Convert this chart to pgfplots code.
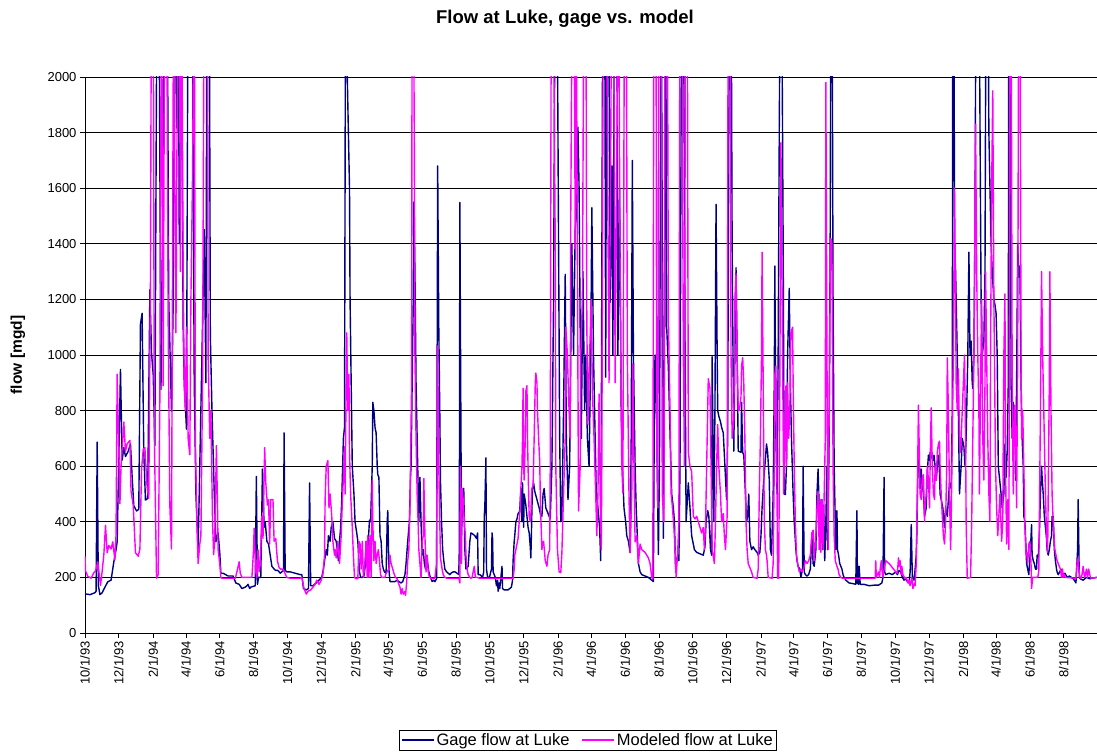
\documentclass[border=0pt]{standalone}
\usepackage{fontspec}
\setmainfont{Liberation Sans}
\usepackage{pgfplots}
\pgfplotsset{compat=1.18}
\definecolor{gagecol}{RGB}{0,0,128}
\definecolor{modelcol}{RGB}{255,0,255}
\begin{document}
\begin{tikzpicture}[x=1bp,y=1bp]
\begin{axis}[
  at={(0,0)}, anchor=south west,
  scale only axis, width=1012bp, height=556bp,
  xmin=0, xmax=1825, ymin=0, ymax=2000,
  ytick={0,200,...,2000},
  xtick={0,61,123,182,243,304,365,426,488,547,608,669,730,791,853,913,974,1035,1096,1157,1219,1278,1339,1400,1461,1522,1584,1643,1704,1765},
  xticklabels={10/1/93,12/1/93,2/1/94,4/1/94,6/1/94,8/1/94,10/1/94,12/1/94,2/1/95,4/1/95,6/1/95,8/1/95,10/1/95,12/1/95,2/1/96,4/1/96,6/1/96,8/1/96,10/1/96,12/1/96,2/1/97,4/1/97,6/1/97,8/1/97,10/1/97,12/1/97,2/1/98,4/1/98,6/1/98,8/1/98},
  axis x line*=bottom, axis y line*=left,
  axis line style={-, black, line width=0.8bp},
  ymajorgrids, grid style={black, line width=0.6bp},
  tick align=outside, major tick length=5bp,
  tick style={black, line width=0.8bp},
  xticklabel style={rotate=90, anchor=east, font=\fontsize{13bp}{15bp}\selectfont},
  yticklabel style={font=\fontsize{13bp}{15bp}\selectfont},
  /pgf/number format/assume math mode=true,
  /pgf/number format/1000 sep={},
  scaled y ticks=false,
  legend style={at={(0.497,-0.1925)}, anchor=center, legend columns=2, draw=black,
    font=\fontsize{16.5bp}{18bp}\selectfont, inner sep=1.5bp,
    /tikz/every even column/.append style={column sep=10bp}},
  legend image code/.code={\draw[#1] (0bp,0bp) -- (32bp,0bp);},
]
\addplot[color=gagecol, line width=1.4bp, line join=round] table {
d v
0 141
9 138
18 145
20 150
22 687
24 171
27 138
31 145
36 165
41 184
47 190
52 256
56 300
58 328
61 628
64 948
67 622
70 667
73 635
78 654
82 680
85 563
88 458
93 439
97 445
100 1111
103 1150
106 654
109 478
113 484
117 1235
120 1007
123 929
126 674
130 2500
133 2500
137 876
140 1400
144 2500
148 2500
151 1200
156 798
159 1177
162 2500
165 1817
168 2500
170 1400
173 2500
177 1100
179 900
183 733
186 2500
193 2500
197 900
200 500
204 302
206 500
212 1111
215 1451
218 900
220 2500
224 2500
226 1072
229 800
233 511
236 328
240 360
243 290
245 215
249 215
258 205
267 205
272 180
278 175
283 160
289 165
292 170
294 175
297 160
299 165
307 170
309 563
311 175
313 200
317 200
320 590
323 380
325 400
328 330
331 320
337 240
341 230
344 225
348 225
352 215
358 225
359 720
361 225
364 220
370 220
379 215
388 210
391 210
394 160
399 155
403 160
405 540
407 170
411 170
417 180
422 190
427 200
430 230
432 260
435 300
437 280
439 350
442 330
444 380
447 400
450 340
453 330
455 300
457 260
459 330
461 380
463 480
466 700
468 740
470 2500
472 2100
475 1800
477 1600
478 1200
480 900
482 600
485 500
487 400
490 360
492 330
495 220
497 200
500 200
503 205
506 250
507 330
510 300
512 370
513 406
515 400
518 600
519 830
521 800
523 740
525 720
527 600
528 570
530 560
532 350
534 330
536 250
538 230
540 220
543 215
545 400
546 440
548 230
550 185
554 185
559 185
563 190
566 185
570 180
573 185
577 210
579 250
582 330
585 400
587 560
588 600
590 900
592 1200
593 1550
595 1300
597 900
599 700
601 500
602 400
604 560
606 400
608 280
610 300
612 250
614 230
616 280
618 250
620 220
622 205
626 185
629 190
631 185
634 195
636 1680
638 1100
640 760
641 550
643 400
645 300
647 260
649 230
652 220
655 215
658 210
660 215
664 220
667 220
671 215
674 210
675 300
676 1549
678 700
679 350
680 420
683 520
685 300
687 230
691 240
693 300
694 330
696 360
700 355
703 350
706 340
708 360
709 210
712 210
715 205
717 200
719 220
720 420
721 450
723 630
724 230
726 200
729 200
730 205
733 230
734 360
735 340
736 220
738 210
740 200
742 170
744 190
745 150
747 180
748 160
750 200
752 240
753 160
756 155
759 155
763 155
766 160
769 165
771 190
772 260
774 330
775 350
777 400
779 410
781 430
783 435
784 440
786 520
788 400
789 540
791 380
792 500
795 460
797 420
799 380
801 360
803 310
804 270
805 350
806 450
807 520
809 540
811 510
815 480
819 450
822 420
824 420
826 500
828 520
831 450
837 420
839 410
842 600
845 1200
848 2500
851 2500
854 1400
856 700
858 400
860 420
863 800
866 1290
868 700
871 480
874 600
876 1000
878 1400
881 1000
884 1450
886 1500
889 1820
891 1600
893 1100
895 700
898 1300
901 800
903 1000
906 700
909 600
912 1000
914 1530
917 1000
920 700
922 500
925 450
928 380
930 260
931 700
934 2500
937 2500
939 920
941 2500
944 2500
947 1190
950 1680
952 1000
955 2500
959 2500
961 1000
964 1600
967 800
969 600
972 450
975 400
977 350
980 330
983 289
985 700
987 1700
989 1000
992 600
994 450
998 250
1001 220
1004 210
1010 205
1016 200
1022 190
1025 185
1027 900
1028 1000
1031 750
1034 282
1036 600
1039 2500
1043 341
1045 1000
1047 2500
1049 1100
1052 955
1055 720
1058 500
1061 450
1063 400
1065 230
1069 280
1071 260
1073 600
1076 2500
1079 2500
1082 1080
1084 400
1088 540
1091 450
1094 350
1099 300
1103 290
1109 285
1115 280
1118 310
1120 400
1123 440
1125 420
1128 300
1130 280
1131 994
1134 400
1136 800
1138 1542
1140 1000
1141 800
1143 780
1146 760
1148 740
1151 720
1154 600
1157 480
1159 700
1161 1800
1163 2500
1165 2500
1167 1400
1170 654
1172 1000
1174 1314
1176 1000
1178 654
1183 650
1184 830
1186 650
1188 640
1191 500
1193 400
1195 420
1197 500
1199 330
1202 300
1205 310
1208 300
1212 290
1214 280
1217 290
1219 350
1221 450
1224 550
1226 600
1229 680
1231 650
1234 550
1236 300
1238 280
1241 500
1243 900
1244 1320
1246 700
1248 500
1250 1000
1252 1800
1254 2500
1256 2500
1259 1400
1261 500
1263 498
1265 600
1267 1000
1270 1240
1272 900
1274 700
1277 500
1279 400
1282 300
1284 260
1286 240
1289 230
1291 200
1294 230
1295 600
1297 220
1299 210
1302 205
1305 210
1308 230
1311 360
1313 250
1315 240
1318 300
1320 500
1322 590
1324 450
1326 370
1329 480
1330 300
1332 460
1334 260
1336 400
1338 600
1339 300
1342 700
1344 1500
1345 2500
1347 2500
1349 1200
1351 600
1353 400
1354 300
1356 440
1357 300
1359 280
1361 250
1365 230
1367 210
1369 200
1372 190
1375 185
1378 180
1384 178
1390 175
1392 440
1393 180
1395 175
1396 240
1398 175
1405 175
1414 170
1423 172
1431 172
1437 180
1439 200
1441 560
1442 220
1444 210
1450 215
1456 210
1462 220
1465 210
1468 225
1471 220
1474 200
1477 190
1480 195
1483 185
1486 180
1488 220
1490 390
1492 200
1495 190
1497 230
1499 280
1500 350
1502 600
1503 670
1506 520
1508 590
1509 550
1512 500
1514 420
1517 450
1519 580
1521 640
1523 620
1524 650
1526 640
1529 620
1531 640
1533 600
1535 550
1538 620
1540 640
1542 500
1545 470
1547 450
1550 380
1552 450
1555 420
1557 480
1559 540
1562 520
1564 800
1565 2500
1567 2500
1568 1400
1570 1300
1573 1000
1575 800
1577 500
1580 600
1582 700
1585 670
1587 600
1589 700
1592 1000
1594 1370
1596 1000
1598 1050
1600 900
1601 880
1603 1000
1605 1500
1607 2500
1612 2500
1615 1500
1616 1200
1618 1000
1621 1050
1623 1300
1625 2500
1628 2500
1630 1800
1632 1600
1634 1400
1636 1300
1639 1200
1641 1180
1643 1150
1645 1000
1647 600
1650 540
1652 500
1654 450
1657 500
1659 680
1661 560
1663 650
1665 900
1666 2500
1668 2500
1670 900
1672 700
1674 830
1675 700
1677 800
1678 550
1680 900
1682 1400
1684 1280
1686 1320
1688 900
1690 700
1692 600
1693 420
1695 400
1698 250
1700 230
1702 210
1705 300
1707 390
1708 280
1710 260
1712 250
1714 230
1716 230
1717 280
1719 270
1721 350
1723 500
1725 600
1726 560
1728 500
1730 420
1732 380
1734 340
1735 300
1737 280
1739 300
1741 330
1743 350
1744 420
1746 420
1748 300
1750 260
1752 230
1753 220
1755 210
1758 220
1760 230
1762 215
1765 210
1767 215
1770 205
1772 200
1775 205
1779 200
1782 195
1784 190
1787 180
1788 220
1790 300
1791 480
1793 200
1795 195
1800 190
1806 200
1812 195
1818 198
1825 200
};
\addlegendentry{Gage flow at Luke}
\addplot[color=modelcol, line width=1.4bp, line join=round] table {
d v
0 276
1 223
5 204
11 197
16 217
19 223
23 256
28 171
31 223
34 282
37 387
40 289
43 315
47 302
50 328
54 263
56 354
58 931
61 654
63 465
65 600
70 759
73 654
76 680
81 693
83 511
87 458
91 289
96 276
99 302
102 589
105 661
108 667
112 524
115 484
118 1242
120 2500
123 2500
125 720
129 197
132 210
135 850
138 2500
141 889
144 2500
147 2500
150 1111
153 458
156 302
157 850
160 2500
162 1600
164 1080
166 1804
170 2500
172 1300
174 2500
177 1300
179 889
181 800
183 1100
186 700
189 641
191 1200
194 1660
197 2500
199 700
202 380
204 250
207 320
209 350
212 900
213 1400
215 2500
221 2500
222 1000
225 700
227 800
230 400
232 282
234 340
237 674
239 450
240 300
243 250
245 200
247 197
271 197
274 220
278 256
280 215
283 200
301 200
304 300
305 377
308 220
310 200
312 300
314 220
316 250
319 420
321 340
324 667
326 540
329 460
331 480
333 320
335 480
339 480
341 330
344 340
347 260
350 235
353 230
357 230
364 200
370 197
388 197
391 200
395 160
399 140
402 150
407 155
411 165
415 175
418 190
422 175
426 190
429 210
432 280
433 480
435 600
438 620
440 450
442 500
445 420
447 330
450 280
451 300
453 270
456 330
459 250
462 350
464 470
466 560
468 670
469 500
470 700
472 1080
474 800
476 930
477 650
479 500
482 380
484 280
486 200
489 195
492 195
494 330
496 320
498 230
500 330
502 200
504 230
507 330
509 200
510 350
512 200
514 350
516 200
518 550
519 400
521 260
523 330
525 250
527 280
529 300
531 260
533 210
535 200
541 200
543 215
548 230
550 280
552 250
555 230
557 215
560 200
563 195
565 180
568 165
570 140
572 160
574 140
577 150
578 135
580 180
582 260
584 300
586 450
587 600
589 900
590 2500
592 2500
594 1700
595 1000
597 700
599 500
601 380
602 300
604 250
606 200
608 330
610 350
611 556
613 350
615 220
617 280
619 220
621 200
624 197
631 197
634 250
636 1033
638 600
640 380
641 270
644 230
646 210
649 200
653 197
674 197
676 180
677 600
678 450
679 250
680 520
682 480
684 400
686 350
687 280
689 230
691 210
694 200
696 197
698 200
700 220
702 240
704 200
707 200
712 197
772 197
774 230
775 280
777 300
779 320
781 340
782 370
784 430
785 450
786 520
788 600
789 700
790 880
791 600
792 550
794 700
795 870
797 890
798 700
800 500
801 420
803 400
804 420
805 480
806 520
808 530
810 700
812 900
813 935
815 900
816 800
818 700
820 620
821 500
822 420
824 300
825 320
827 330
830 260
833 240
835 280
838 300
839 600
841 2500
844 2500
846 1940
848 1400
849 600
852 300
855 220
858 217
860 289
863 500
866 700
867 1100
870 1000
872 850
875 700
876 1500
879 2500
882 2500
884 1380
885 2500
887 1800
890 439
893 600
894 1000
897 1200
900 2500
903 2500
905 1100
907 750
910 1000
913 1200
915 870
918 700
921 500
923 350
925 500
927 860
929 500
931 300
932 600
935 2500
940 2500
943 1500
945 900
948 1700
950 2500
953 2500
956 900
959 1700
962 2500
965 1300
968 600
970 504
973 2500
976 2500
978 1000
981 500
983 289
986 500
988 968
990 600
992 328
995 350
998 250
1001 320
1004 300
1010 290
1016 270
1019 250
1022 200
1024 195
1026 2500
1028 2500
1030 1980
1031 700
1033 450
1035 2500
1039 2500
1041 500
1044 400
1046 2500
1050 2500
1052 1138
1055 800
1057 500
1059 460
1062 380
1064 300
1066 200
1069 300
1071 400
1073 2500
1076 2500
1079 1000
1081 600
1083 2500
1086 2500
1088 650
1091 600
1094 580
1097 420
1100 410
1103 420
1106 400
1109 380
1112 360
1115 380
1117 300
1119 380
1122 700
1124 915
1127 880
1129 600
1131 300
1135 250
1137 400
1139 600
1141 750
1143 600
1146 500
1148 400
1151 430
1153 350
1155 300
1158 420
1160 2500
1163 2500
1165 1000
1167 700
1170 765
1172 1200
1174 1294
1176 1000
1178 800
1180 800
1183 850
1184 960
1186 990
1188 900
1190 700
1192 400
1194 300
1196 250
1198 240
1200 230
1202 220
1205 200
1212 197
1214 230
1216 500
1218 700
1220 1000
1221 1370
1223 900
1225 400
1227 300
1229 280
1230 260
1232 200
1239 197
1241 250
1243 600
1244 930
1246 960
1248 500
1249 197
1251 197
1253 900
1255 1764
1256 1500
1258 1000
1260 500
1262 700
1264 889
1265 600
1267 900
1269 700
1271 800
1273 1080
1276 1100
1277 900
1279 600
1281 400
1283 280
1286 240
1288 220
1291 230
1293 220
1296 230
1299 260
1302 250
1305 260
1308 280
1311 360
1313 370
1315 260
1318 350
1320 450
1322 510
1324 300
1326 480
1327 290
1329 480
1331 300
1333 500
1335 700
1336 1980
1338 1000
1340 300
1342 800
1344 1300
1345 1420
1347 1400
1349 600
1351 350
1353 260
1356 240
1358 230
1360 210
1363 200
1366 197
1425 197
1426 260
1427 200
1431 220
1433 200
1434 230
1436 260
1437 230
1439 200
1441 230
1444 260
1450 250
1456 235
1462 220
1465 215
1467 270
1468 240
1470 260
1472 210
1473 240
1475 210
1479 195
1481 200
1484 180
1486 190
1488 170
1491 200
1493 160
1496 180
1497 170
1499 250
1501 500
1503 820
1505 600
1506 500
1508 480
1510 560
1512 570
1514 400
1515 450
1517 500
1519 600
1521 550
1523 450
1524 600
1526 810
1528 600
1530 500
1532 480
1533 600
1535 550
1537 650
1539 680
1541 690
1542 600
1544 500
1546 420
1548 350
1550 320
1552 400
1554 600
1555 990
1557 800
1559 500
1561 300
1562 400
1564 700
1566 1000
1568 1600
1570 1200
1571 900
1573 800
1575 950
1577 700
1579 650
1580 700
1582 800
1584 900
1586 1000
1588 700
1589 400
1591 197
1597 200
1599 400
1601 700
1603 1000
1604 1200
1606 1830
1608 1300
1610 1000
1612 800
1613 500
1615 900
1617 1200
1619 700
1621 550
1623 900
1624 1300
1626 1000
1628 700
1630 500
1632 400
1633 1000
1635 1600
1637 1950
1639 1200
1641 800
1642 600
1644 450
1646 350
1648 420
1650 500
1651 450
1653 330
1655 400
1657 1000
1659 1220
1660 600
1662 320
1664 480
1666 300
1667 1000
1668 2500
1670 2500
1672 900
1674 500
1676 800
1677 820
1679 600
1680 450
1682 1000
1684 2500
1686 2500
1688 1000
1689 700
1691 800
1693 600
1695 380
1697 280
1698 290
1700 250
1702 320
1704 330
1706 250
1707 160
1709 200
1718 200
1720 220
1721 400
1723 800
1725 1300
1727 1000
1728 900
1730 700
1732 500
1734 350
1736 290
1737 500
1739 900
1740 1300
1742 800
1744 500
1746 400
1748 330
1749 300
1751 280
1753 260
1755 250
1757 240
1759 230
1761 200
1763 230
1764 200
1766 210
1768 200
1787 197
1789 250
1791 270
1792 240
1794 200
1796 197
1798 210
1800 240
1801 220
1803 200
1806 230
1808 200
1810 230
1813 200
1815 197
1825 200
};
\addlegendentry{Modeled flow at Luke}
\end{axis}
\node[font=\bfseries\fontsize{18.5bp}{21bp}\selectfont] at (480,614) {Flow at Luke, gage vs. model};
\node[rotate=90, font=\bfseries\fontsize{15.5bp}{18bp}\selectfont] at (-67,278) {flow [mgd]};
\pgfresetboundingbox
\path[use as bounding box] (-85,-122) rectangle (1012,633);
\end{tikzpicture}
\end{document}
